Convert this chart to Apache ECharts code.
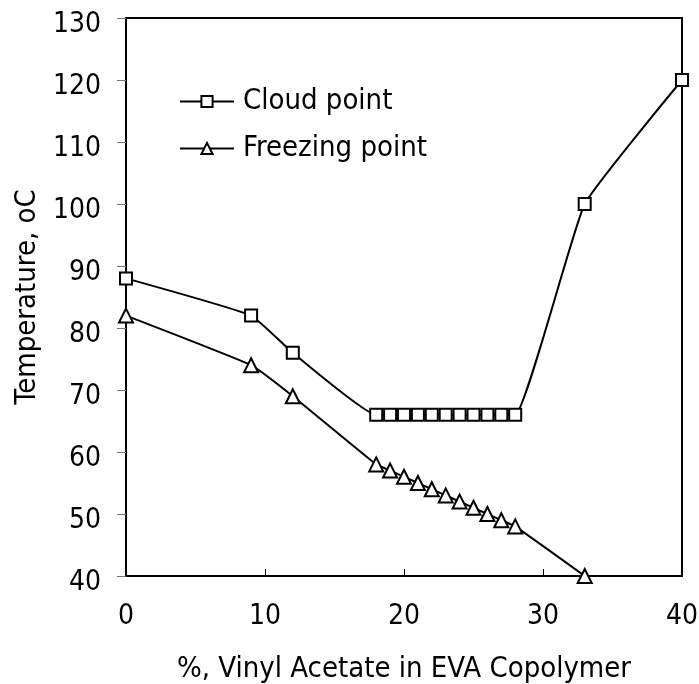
<!DOCTYPE html>
<html><head><meta charset="utf-8">
<script src="https://cdn.jsdelivr.net/npm/echarts@6/dist/echarts.min.js"></script>
<style>html,body{margin:0;padding:0;background:#fff}#c{width:699px;height:684px}</style>
</head><body><div id="c"></div>
<script>
const cloudX = [0, 9, 12, 18, 19, 20, 21, 22, 23, 24, 25, 26, 27, 28, 33, 40];
const cloudY = [88, 82, 76, 66, 66, 66, 66, 66, 66, 66, 66, 66, 66, 66, 100, 120];
const freezeX = [0, 9, 12, 18, 19, 20, 21, 22, 23, 24, 25, 26, 27, 28, 33];
const freezeY = [82, 74, 69, 58, 57, 56, 55, 54, 53, 52, 51, 50, 49, 48, 40];
const xTicks = [0, 10, 20, 30, 40];
const yTicks = [40, 50, 60, 70, 80, 90, 100, 110, 120, 130];

const font = 'DejaVu Sans Condensed, DejaVu Sans, sans-serif';
const fs = 29;
const chart = echarts.init(document.getElementById('c'));
const pair = (xs, ys) => xs.map((x, i) => [x, ys[i]]);
chart.setOption({
  animation: false,
  backgroundColor: '#fff',
  grid: { left: 126, right: 17, top: 18, bottom: 108, outerBoundsMode: 'none', containLabel: false,
          show: true, borderColor: '#000', borderWidth: 2, backgroundColor: 'transparent' },
  legend: {
    orient: 'vertical', left: 174, top: 82, itemGap: 18, itemWidth: 54, itemHeight: 14,
    textStyle: { fontFamily: font, fontSize: fs, color: '#000', padding: [0, 0, 0, 4] },
    data: ['Cloud point', 'Freezing point']
  },
  xAxis: {
    type: 'value', min: xTicks[0], max: xTicks[xTicks.length - 1], interval: 10,
    name: '%, Vinyl Acetate in EVA Copolymer', nameLocation: 'middle', nameGap: 79,
    nameTextStyle: { fontFamily: font, fontSize: fs, color: '#000' },
    axisLine: { lineStyle: { color: '#000', width: 2 } },
    axisTick: { inside: true, length: 7, lineStyle: { color: '#000', width: 1 } },
    axisLabel: { fontFamily: font, fontSize: 28, color: '#000', margin: 27 },
    splitLine: { show: false }
  },
  yAxis: {
    type: 'value', min: yTicks[0], max: yTicks[yTicks.length - 1], interval: 10,
    name: 'Temperature, oC', nameLocation: 'middle', nameGap: 83,
    nameTextStyle: { fontFamily: font, fontSize: fs, color: '#000' },
    axisLine: { lineStyle: { color: '#000', width: 2 } },
    axisTick: { inside: false, length: 9, lineStyle: { color: '#777', width: 1 } },
    axisLabel: { fontFamily: font, fontSize: 28, color: '#000', margin: 25, verticalAlign: 'top', lineHeight: 14 },
    splitLine: { show: false }
  },
  series: [
    {
      name: 'Cloud point', type: 'line', data: pair(cloudX, cloudY), smooth: 0.12,
      symbol: 'rect', symbolSize: 12, showAllSymbol: true,
      lineStyle: { color: '#000', width: 2 },
      itemStyle: { color: '#fff', borderColor: '#000', borderWidth: 2 }
    },
    {
      name: 'Freezing point', type: 'line', data: pair(freezeX, freezeY), smooth: 0.12,
      symbol: 'triangle', symbolSize: 14, showAllSymbol: true,
      lineStyle: { color: '#000', width: 2 },
      itemStyle: { color: '#fff', borderColor: '#000', borderWidth: 2 }
    }
  ]
});
</script></body></html>
